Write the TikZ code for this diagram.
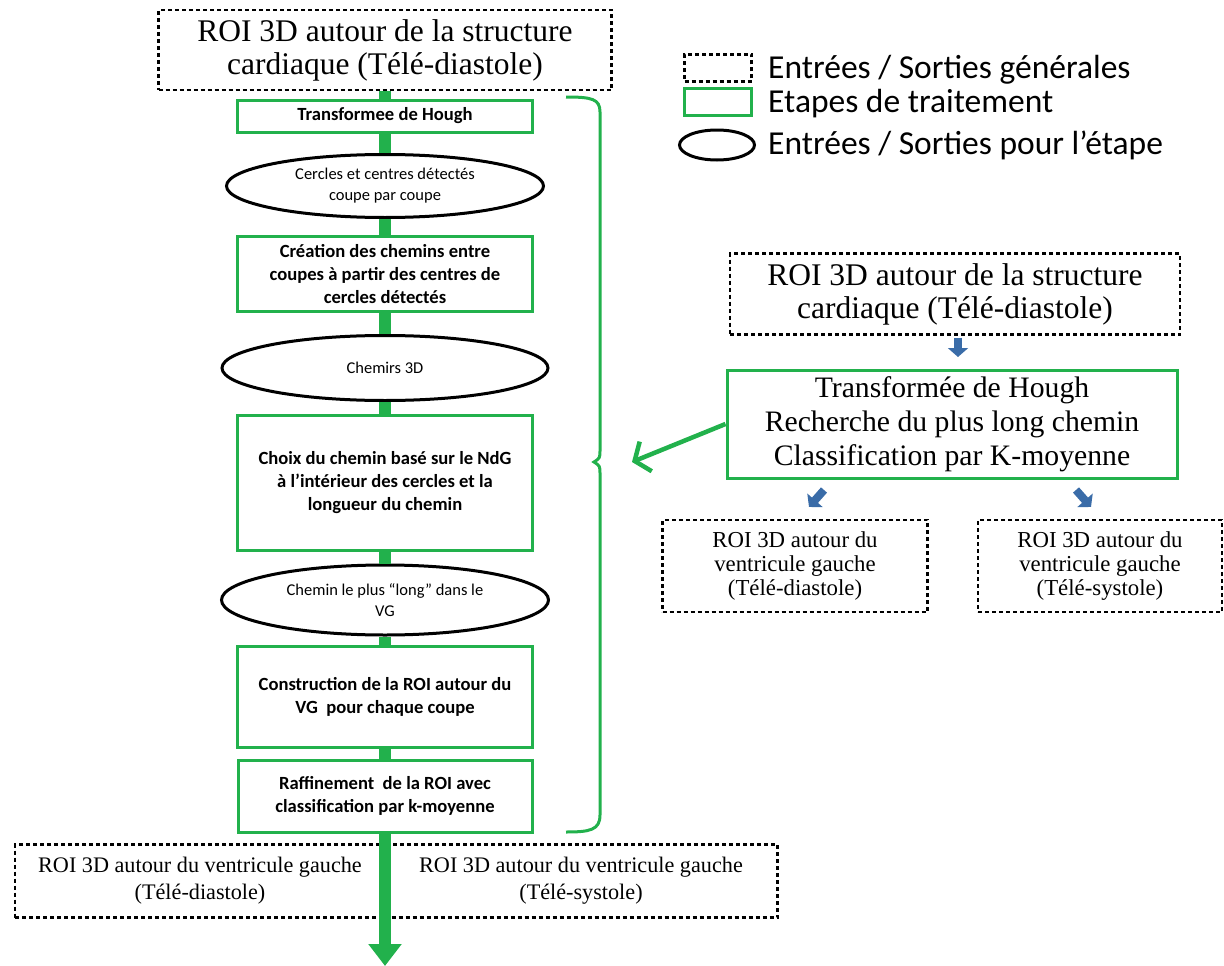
\documentclass[tikz,border=0pt]{standalone}
\usepackage{fontspec}
\setmainfont{Carlito}
\newfontfamily\timesfont{Liberation Serif}
\usetikzlibrary{shapes.geometric,arrows.meta}
\definecolor{stepgreen}{RGB}{34,177,76}
\definecolor{smallblue}{RGB}{58,108,168}

\begin{document}
\begin{tikzpicture}[x=1pt,y=-1pt,
	general/.style={draw=black,line width=2.5pt,dash pattern=on 4pt off 3pt,fill=white,align=center,inner sep=0pt,font=\timesfont\fontsize{31.5}{33}\selectfont},
	etape/.style={draw=stepgreen,line width=3pt,fill=white,align=center,inner sep=0pt,font=\bfseries\fontsize{18.6}{23}\selectfont},
	io/.style={ellipse,draw=black,line width=3pt,fill=white,align=center,inner sep=0pt,font=\fontsize{16.5}{21}\selectfont},
	legtext/.style={anchor=west,inner sep=0pt,font=\fontsize{33.5}{36}\selectfont},
	flow/.style={stepgreen,line width=12pt},
	smallarrow/.style={smallblue,line width=8pt,-{Triangle[length=9pt,width=20pt]}}]
	\useasboundingbox (0,0) rectangle (1224,966);

	% main chain
	\node[general,minimum width=453pt,minimum height=80pt] (top) at (385,50)
	{ROI 3D autour de la structure\\cardiaque (Télé-diastole)};
	\node[etape,minimum width=295pt,minimum height=32pt] (hough) at (385,116)
	{Transformee de Hough};
	\node[io,minimum width=317pt,minimum height=63pt] (cercles) at (385,186)
	{Cercles et centres détectés\\coupe par coupe};
	\node[etape,minimum width=295pt,minimum height=75pt] (creation) at (385,274)
	{Création des chemins entre\\coupes à partir des centres de\\cercles détectés};
	\node[io,minimum width=326pt,minimum height=65pt] (chemins) at (385,368)
	{Chemirs 3D};
	\node[etape,minimum width=295pt,minimum height=135pt] (choix) at (385,483)
	{Choix du chemin basé sur le NdG\\à l’intérieur des cercles et la\\longueur du chemin};
	\node[io,minimum width=327pt,minimum height=70pt] (cheminlong) at (385,600)
	{Chemin le plus “long” dans le\\VG};
	\node[etape,minimum width=295pt,minimum height=101pt] (construction) at (385,697)
	{Construction de la ROI autour du\\VG\ \ pour chaque coupe};
	\node[etape,minimum width=294pt,minimum height=72pt] (raffinement) at (385,796)
	{Raffinement\ \ de la ROI avec\\classification par k-moyenne};
	\node[general,font=\timesfont\fontsize{22.2}{27}\selectfont,minimum width=370pt,minimum height=73pt] (vgdiast) at (200,881)
	{ROI 3D autour du ventricule gauche\\(Télé-diastole)};
	\node[general,font=\timesfont\fontsize{22.2}{27}\selectfont,minimum width=393pt,minimum height=73pt] (vgsyst) at (581,881)
	{ROI 3D autour du ventricule gauche\\(Télé-systole)};

	\draw[flow] (top) -- (hough) -- (cercles) -- (creation) -- (chemins) -- (choix)
	-- (cheminlong) -- (construction) -- (raffinement);
	\coordinate (sortie) at (385,966);
	\draw[flow,-{Triangle[length=22pt,width=32pt]}] (raffinement) -- (sortie);

	% brace
	\draw[stepgreen,line width=3pt] (566,97) .. controls (592,97) and (600,99) .. (600,112)
	-- (600,450) .. controls (600,458) .. (594,462) .. controls (600,466) .. (600,474)
	-- (600,815) .. controls (600,830) and (590,832) .. (566,832);

	% legend
	\node[draw=black,line width=2.5pt,dash pattern=on 4pt off 3pt,minimum width=67pt,minimum height=27pt,inner sep=0pt] (leggen) at (718,68) {};
	\node[draw=stepgreen,line width=3pt,minimum width=67pt,minimum height=27pt,inner sep=0pt] (legetape) at (718,102) {};
	\node[ellipse,draw=black,line width=3pt,minimum width=75pt,minimum height=30pt,inner sep=0pt] (legio) at (717,145) {};
	\node[legtext] (tgen) at (768,70) {Entrées / Sorties générales};
	\node[legtext] (tetape) at (768,104) {Etapes de traitement};
	\node[legtext] (tio) at (768,145) {Entrées / Sorties pour l’étape};

	% summary on the right
	\node[general,minimum width=450pt,minimum height=81pt] (roiR) at (955,294)
	{ROI 3D autour de la structure\\cardiaque (Télé-diastole)};
	\node[general,draw=stepgreen,solid,line width=3pt,minimum width=450pt,minimum height=108pt,font=\timesfont\fontsize{29.7}{34}\selectfont] (houghR) at (952,424)
	{Transformée de Hough\\Recherche du plus long chemin\\Classification par K-moyenne};
	\node[general,font=\timesfont\fontsize{22.8}{24}\selectfont,minimum width=265pt,minimum height=92pt] (vgdiastR) at (795,566)
	{ROI 3D autour du\\ventricule gauche\\(Télé-diastole)};
	\node[general,font=\timesfont\fontsize{22.8}{24}\selectfont,minimum width=244pt,minimum height=92pt] (vgsystR) at (1100,566)
	{ROI 3D autour du\\ventricule gauche\\(Télé-systole)};

	\coordinate (a0) at (958,338);
	\coordinate (b0) at (958,357);
	\coordinate (a1) at (824,490);
	\coordinate (b1) at (809,507);
	\coordinate (a2) at (1076,490);
	\coordinate (b2) at (1091,507);
	\draw[smallarrow] (a0) -- (b0);
	\draw[smallarrow] (a1) -- (b1);
	\draw[smallarrow] (a2) -- (b2);

	\coordinate (bracetip) at (632,462);
	\draw[stepgreen,line width=4.5pt,-{Straight Barb[length=12pt,width=32pt]}] (houghR.west) -- (bracetip);

\end{tikzpicture}
\end{document}
